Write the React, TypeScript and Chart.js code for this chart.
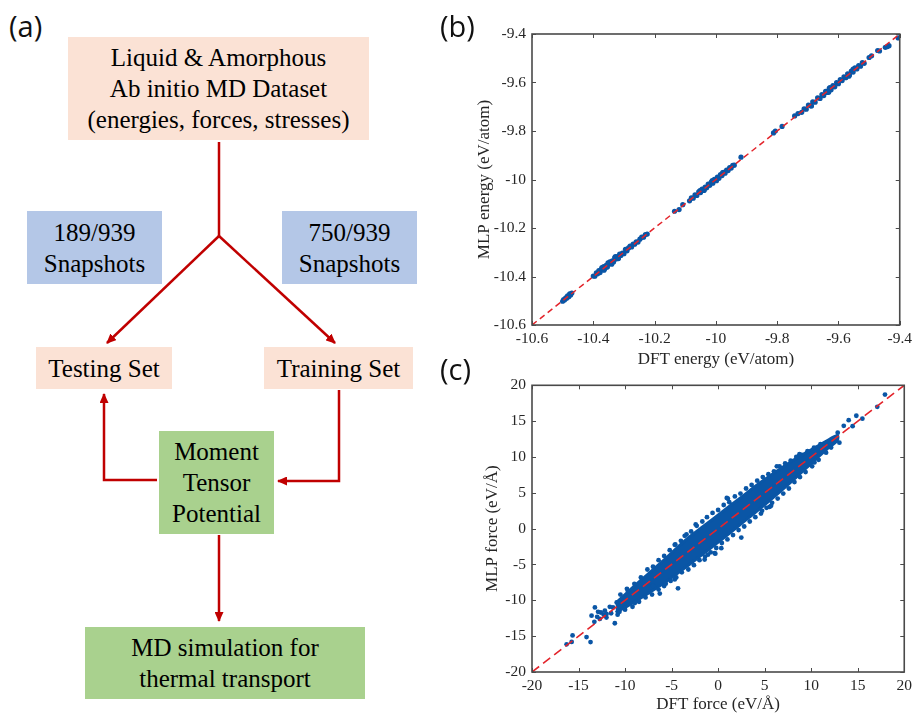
import React, { useEffect, useRef } from "react";
import { Chart, registerables } from "chart.js";

Chart.register(...registerables);

// ---------------- Panel (b): energies ----------------
const energyTicks = [-10.6, -10.4, -10.2, -10, -9.8, -9.6, -9.4];
const energyTickLabels = ["-10.6", "-10.4", "-10.2", "-10", "-9.8", "-9.6", "-9.4"];
const energyRange = [-10.6, -9.4];

const energyDFT = [
  -10.5, -10.497, -10.494, -10.49, -10.487, -10.484, -10.48, -10.477, -10.474, -10.47,
  -10.4, -10.395, -10.39, -10.386, -10.382, -10.378, -10.374, -10.37, -10.366, -10.362,
  -10.358, -10.354, -10.35, -10.346, -10.342, -10.338, -10.334, -10.33, -10.326, -10.322,
  -10.318, -10.314, -10.31, -10.305, -10.3, -10.295, -10.29, -10.285, -10.28, -10.275,
  -10.27, -10.265, -10.26, -10.254, -10.248, -10.242, -10.236, -10.23, -10.224,
  -10.352, -10.34, -10.328, -10.318, -10.365, -10.372,
  -10.135, -10.12, -10.108,
  -10.086, -10.08, -10.074, -10.068, -10.062, -10.056, -10.05, -10.045, -10.04, -10.035,
  -10.03, -10.025, -10.02, -10.015, -10.01, -10.005, -10.0, -9.995, -9.99, -9.985,
  -9.98, -9.975, -9.97, -9.965, -9.96, -9.955, -9.95, -9.945, -9.94,
  -10.052, -10.038, -10.012, -9.998, -9.978,
  -9.918,
  -9.812, -9.806, -9.784,
  -9.743, -9.732,
  -9.72, -9.712, -9.705, -9.698, -9.69, -9.684, -9.676, -9.668, -9.66, -9.654,
  -9.648, -9.642, -9.636, -9.63, -9.624, -9.618, -9.612, -9.606, -9.6, -9.594,
  -9.588, -9.582, -9.576, -9.57, -9.564, -9.558, -9.552, -9.546, -9.54, -9.534,
  -9.528, -9.522, -9.516,
  -9.688, -9.632, -9.628, -9.566, -9.552,
  -9.5, -9.492, -9.472, -9.466, -9.447, -9.44, -9.435, -9.405,
];

const energyMLP = [
  -10.502, -10.495, -10.497, -10.488, -10.49, -10.48, -10.483, -10.472, -10.476, -10.468,
  -10.398, -10.399, -10.385, -10.389, -10.376, -10.384, -10.371, -10.372, -10.359, -10.367,
  -10.354, -10.361, -10.348, -10.34, -10.346, -10.335, -10.34, -10.322, -10.328, -10.318,
  -10.323, -10.308, -10.313, -10.303, -10.306, -10.288, -10.294, -10.282, -10.275, -10.278,
  -10.266, -10.267, -10.257, -10.258, -10.246, -10.238, -10.238, -10.227, -10.225,
  -10.344, -10.349, -10.318, -10.326, -10.374, -10.363,
  -10.131, -10.124, -10.104,
  -10.088, -10.076, -10.077, -10.063, -10.066, -10.051, -10.054, -10.04, -10.045, -10.031,
  -10.034, -10.019, -10.024, -10.011, -10.015, -9.999, -10.004, -9.99, -9.995, -9.98,
  -9.984, -9.97, -9.974, -9.961, -9.963, -9.951, -9.953, -9.942, -9.941,
  -10.046, -10.044, -10.005, -10.005, -9.972,
  -9.908,
  -9.808, -9.8, -9.781,
  -9.738, -9.728,
  -9.723, -9.709, -9.71, -9.693, -9.696, -9.68, -9.681, -9.663, -9.666, -9.65,
  -9.654, -9.636, -9.641, -9.624, -9.63, -9.613, -9.618, -9.6, -9.605, -9.588,
  -9.592, -9.577, -9.58, -9.564, -9.569, -9.553, -9.557, -9.54, -9.544, -9.53,
  -9.533, -9.518, -9.521,
  -9.697, -9.64, -9.621, -9.574, -9.545,
  -9.497, -9.49, -9.468, -9.47, -9.455, -9.452, -9.448, -9.416,
];

// ---------------- Panel (c): forces ----------------
const forceTicks = [-20, -15, -10, -5, 0, 5, 10, 15, 20];
const forceTickLabels = ["-20", "-15", "-10", "-5", "0", "5", "10", "15", "20"];
const forceRange = [-20, 20];

// outline of the dense (saturated) core of the force cloud
const forceCoreDFT = [
  -11.0, -9.5, -7.5, -5.5, -3.5, -1.5, 0.5, 2.5, 4.5, 6.5, 8.5, 10.0, 11.5, 12.8,
  12.8, 11.5, 10.0, 8.5, 6.5, 4.5, 2.5, 0.5, -1.5, -3.5, -5.5, -7.5, -9.5, -11.0,
];
const forceCoreMLP = [
  -10.4, -8.6, -6.3, -4.0, -1.6, 0.4, 2.4, 4.4, 6.4, 8.2, 9.9, 11.0, 12.1, 13.0,
  12.3, 10.9, 9.1, 7.3, 5.0, 2.8, 0.7, -1.4, -3.4, -5.4, -7.3, -9.0, -10.6, -11.7,
];

// individual points: ragged edges of the cloud and outliers
const forceDFT = [
  -10.5, -9.8, -9.0, -8.3, -7.6, -7.0, -6.4, -5.8, -5.2, -4.6, -4.0, -3.4, -2.9, -2.3, -1.7, -1.2, -0.6, 0.0,
  0.6, 1.2, 1.8, 2.4, 3.0, 3.6, 4.2, 4.8, 5.4, 6.0, 6.6, 7.2, 7.8, 8.4, 9.0, 9.6, 10.3, 11.0,
  -10.8, -10.0, -9.2, -8.5, -7.8, -7.1, -6.4, -5.8, -5.1, -4.5, -3.9, -3.2, -2.6, -2.0, -1.4, -0.8, -0.2, 0.4,
  1.0, 1.6, 2.2, 2.8, 3.4, 4.0, 4.6, 5.2, 5.8, 6.4, 7.0, 7.6, 8.2, 8.8, 9.4, 10.1, 10.8, 11.6,
  17.93, 17.1, 15.5, 14.85, 14.45, 13.5, 14.03, 12.85, 13.03, 12.14, 10.35, 8.74, 6.31, 5.52, 2.49, 0.34,
  1.05, -0.38, 4.72, 5.69, 0.93, -2.41, -3.59, -4.66, -0.3, -1.45, -1.09, -4.31, -4.66, -6.27, -6.99, -5.63,
  -8.95, -11.1, -12.17, -13.24, -13.6, -14.14, -13.71, -15.64, -15.74, -16.28, -11.64, -11.99, -12.71, -9.7,
  -12.3, -11.5, -13.0, -12.9, -13.3, -12.6, -12.0, -11.3, -10.9, -10.6,
];
const forceMLP = [
  -9.2, -8.4, -7.7, -6.8, -5.7, -5.3, -4.4, -3.8, -3.0, -2.2, -1.7, -0.8, -0.4, 0.4, 1.0, 1.6, 2.2, 2.6,
  3.3, 3.7, 4.5, 4.9, 5.6, 6.1, 6.7, 7.2, 7.6, 8.0, 8.7, 9.1, 9.5, 10.0, 10.3, 10.8, 11.3, 11.8,
  -12.0, -11.3, -10.9, -10.2, -9.6, -9.2, -8.5, -8.0, -7.3, -6.8, -6.1, -5.7, -5.1, -4.4, -3.9, -3.3, -2.7, -2.0,
  -1.5, -0.9, -0.2, 0.3, 1.0, 1.6, 2.1, 2.9, 3.6, 4.2, 4.9, 5.6, 6.5, 7.2, 7.9, 8.7, 9.6, 10.6,
  18.7, 17.0, 15.35, 15.75, 14.3, 14.35, 15.13, 13.38, 12.0, 11.31, 9.24, 10.39, 8.69, 3.03, -1.24, -2.72,
  4.18, -3.41, 2.49, 3.18, 4.29, 0.59, -1.0, -2.25, -3.49, -4.32, -3.63, -8.32, -7.08, -9.06, -8.0, -7.68,
  -10.39, -13.2, -11.45, -10.99, -12.14, -15.13, -15.82, -14.9, -15.8, -16.14, -10.9, -11.9, -12.6, -8.7,
  -12.0, -11.8, -12.3, -11.6, -13.0, -11.7, -12.4, -11.0, -10.3, -11.6,
];

// ---------------- Styles ----------------
const BLUE = "#0a56a6";
const RED = "#e3242b";
const AXIS = "#4a4a4a";
const TEXT = "#262626";
const SERIF = '"Liberation Serif", "Times New Roman", serif';

const boxPlugin = {
  id: "matlabBox",
  afterDraw(chart: any) {
    const { ctx, chartArea: a, scales } = chart;
    const xs = scales.x;
    const ys = scales.y;
    ctx.save();
    ctx.strokeStyle = AXIS;
    ctx.lineWidth = 1;
    const tl = 4;
    ctx.beginPath();
    xs.ticks.forEach((t: any) => {
      const px = Math.round(xs.getPixelForValue(t.value)) + 0.5;
      ctx.moveTo(px, a.bottom);
      ctx.lineTo(px, a.bottom - tl);
      ctx.moveTo(px, a.top);
      ctx.lineTo(px, a.top + tl);
    });
    ys.ticks.forEach((t: any) => {
      const py = Math.round(ys.getPixelForValue(t.value)) + 0.5;
      ctx.moveTo(a.left, py);
      ctx.lineTo(a.left + tl, py);
      ctx.moveTo(a.right, py);
      ctx.lineTo(a.right - tl, py);
    });
    ctx.stroke();
    ctx.lineWidth = 1.6;
    ctx.strokeRect(a.left, a.top, a.right - a.left, a.bottom - a.top);
    ctx.restore();
  },
};

function labelFor(ticks: number[], labels: string[]) {
  return (v: any) => {
    const i = ticks.findIndex((t) => Math.abs(t - Number(v)) < 1e-9);
    return i >= 0 ? labels[i] : "";
  };
}

function makeConfig(p: any) {
  const tickFont = { family: SERIF, size: 15.5 };
  const titleFont = { family: SERIF, size: 17, lineHeight: 1 };
  return {
    type: "scatter",
    data: { datasets: p.datasets },
    options: {
      animation: false,
      responsive: false,
      events: [],
      layout: { padding: { top: p.padTop, right: p.padRight, left: 0, bottom: 0 } },
      plugins: { legend: { display: false }, tooltip: { enabled: false } },
      scales: {
        x: {
          type: "linear",
          position: "bottom",
          min: p.range[0],
          max: p.range[1],
          grid: { display: false, drawTicks: false },
          border: { display: false },
          ticks: {
            font: tickFont,
            color: TEXT,
            padding: 5,
            autoSkip: false,
            maxRotation: 0,
            callback: labelFor(p.ticks, p.labels),
          },
          afterBuildTicks: (s: any) => {
            s.ticks = p.ticks.map((v: number) => ({ value: v }));
          },
          afterFit: (s: any) => {
            s.height = p.xHeight;
          },
          title: {
            display: true,
            text: p.xTitle,
            font: titleFont,
            color: TEXT,
            padding: { top: 0, bottom: p.xTitlePad },
          },
        },
        y: {
          type: "linear",
          position: "left",
          min: p.range[0],
          max: p.range[1],
          grid: { display: false, drawTicks: false },
          border: { display: false },
          ticks: {
            font: tickFont,
            color: TEXT,
            padding: 6,
            autoSkip: false,
            callback: labelFor(p.ticks, p.labels),
          },
          afterBuildTicks: (s: any) => {
            s.ticks = p.ticks.map((v: number) => ({ value: v }));
          },
          afterFit: (s: any) => {
            s.width = p.yWidth;
          },
          title: {
            display: true,
            text: p.yTitle,
            font: titleFont,
            color: TEXT,
            padding: { top: p.yTitlePad, bottom: 0 },
          },
        },
      },
    },
    plugins: [boxPlugin],
  };
}

function energyConfig() {
  const points = energyDFT.map((x, i) => ({ x, y: energyMLP[i] }));
  return makeConfig({
    range: energyRange,
    ticks: energyTicks,
    labels: energyTickLabels,
    xTitle: "DFT energy (eV/atom)",
    yTitle: "MLP energy (eV/atom)",
    padTop: 34,
    padRight: 12,
    xHeight: 45,
    yWidth: 92,
    xTitlePad: 1.5,
    yTitlePad: 36.5,
    datasets: [
      {
        label: "parity",
        data: [
          { x: energyRange[0], y: energyRange[0] },
          { x: energyRange[1], y: energyRange[1] },
        ],
        showLine: true,
        borderColor: RED,
        borderWidth: 1.5,
        borderDash: [6, 4],
        pointRadius: 0,
        order: 0,
      },
      {
        label: "energies",
        data: points,
        backgroundColor: BLUE,
        borderWidth: 0,
        pointRadius: 2.6,
        order: 1,
      },
    ],
  });
}

function forceConfig() {
  const points = forceDFT.map((x, i) => ({ x, y: forceMLP[i] }));
  const core = forceCoreDFT.map((x, i) => ({ x, y: forceCoreMLP[i] }));
  return makeConfig({
    range: forceRange,
    ticks: forceTicks,
    labels: forceTickLabels,
    xTitle: "DFT force (eV/Å)",
    yTitle: "MLP force (eV/Å)",
    padTop: 12,
    padRight: 12,
    xHeight: 41,
    yWidth: 92,
    xTitlePad: 0,
    yTitlePad: 44.5,
    datasets: [
      {
        label: "parity",
        data: [
          { x: forceRange[0], y: forceRange[0] },
          { x: forceRange[1], y: forceRange[1] },
        ],
        showLine: true,
        borderColor: RED,
        borderWidth: 1.6,
        borderDash: [9, 5],
        pointRadius: 0,
        order: 0,
      },
      {
        label: "forces",
        data: points,
        backgroundColor: BLUE,
        borderWidth: 0,
        pointRadius: 2.4,
        order: 1,
      },
      {
        label: "forces (dense core)",
        data: core,
        showLine: true,
        fill: "shape",
        backgroundColor: BLUE,
        borderColor: BLUE,
        borderWidth: 3,
        pointRadius: 0,
        tension: 0.3,
        order: 2,
      },
    ],
  });
}

function ChartCanvas({ make, left, top, width, height }: any) {
  const ref = useRef<HTMLCanvasElement>(null);
  useEffect(() => {
    const chart = new Chart(ref.current as HTMLCanvasElement, make());
    return () => chart.destroy();
  }, []);
  return (
    <canvas
      ref={ref}
      width={width}
      height={height}
      style={{ position: "absolute", left, top, width, height }}
    />
  );
}

// ---------------- Panel (a): flow chart ----------------
const PINK = "#fbe2d5";
const LBLUE = "#b4c7e7";
const GREEN = "#a9d18e";
const DARKRED = "#c00000";

function Box({ x, y, w, h, bg, lines }: any) {
  return (
    <div
      style={{
        position: "absolute",
        left: x,
        top: y,
        width: w,
        height: h,
        background: bg,
        display: "flex",
        flexDirection: "column",
        justifyContent: "center",
        alignItems: "center",
        fontFamily: SERIF,
        fontSize: 25,
        lineHeight: "31px",
        color: "#000",
        whiteSpace: "nowrap",
      }}
    >
      {lines.map((l: string, i: number) => (
        <div key={i}>{l}</div>
      ))}
    </div>
  );
}

function PanelLabel({ text, x, y }: any) {
  return (
    <div
      style={{
        position: "absolute",
        left: x,
        top: y,
        fontFamily: '"Open Sans", "Noto Sans", sans-serif',
        fontSize: 29,
        lineHeight: "34px",
        color: "#111",
      }}
    >
      {text}
    </div>
  );
}

function FlowArrows() {
  const common = { stroke: DARKRED, strokeWidth: 2.5, fill: "none" };
  return (
    <svg
      width={440}
      height={713}
      style={{ position: "absolute", left: 0, top: 0 }}
    >
      <defs>
        <marker
          id="ah"
          markerUnits="userSpaceOnUse"
          markerWidth="10"
          markerHeight="9"
          refX="9"
          refY="4.5"
          orient="auto"
        >
          <path d="M0,0 L10,4.5 L0,9 z" fill={DARKRED} />
        </marker>
      </defs>
      <path d="M219,142 L219,236" {...common} />
      <path d="M219,236 L107,343" {...common} markerEnd="url(#ah)" />
      <path d="M219,236 L335,343" {...common} markerEnd="url(#ah)" />
      <path d="M157,480 L104,480 L104,394" {...common} markerEnd="url(#ah)" />
      <path d="M339,390 L339,481 L278,481" {...common} markerEnd="url(#ah)" />
      <path d="M219,535 L219,621" {...common} markerEnd="url(#ah)" />
    </svg>
  );
}

export default function App() {
  return (
    <div
      style={{
        position: "absolute",
        left: 0,
        top: 0,
        width: 917,
        height: 713,
        background: "#fff",
        overflow: "hidden",
      }}
    >
      <FlowArrows />
      <Box x={68} y={37} w={301} h={103} bg={PINK} lines={["Liquid & Amorphous", "Ab initio MD Dataset", "(energies, forces, stresses)"]} />
      <Box x={27} y={211} w={135} h={73} bg={LBLUE} lines={["189/939", "Snapshots"]} />
      <Box x={282} y={211} w={135} h={73} bg={LBLUE} lines={["750/939", "Snapshots"]} />
      <Box x={36} y={347} w={136} h={42} bg={PINK} lines={["Testing Set"]} />
      <Box x={264} y={347} w={149} h={42} bg={PINK} lines={["Training Set"]} />
      <Box x={159} y={431} w={115} h={103} bg={GREEN} lines={["Moment", "Tensor", "Potential"]} />
      <Box x={85} y={627} w={280} h={72} bg={GREEN} lines={["MD simulation for", "thermal transport"]} />

      <ChartCanvas make={energyConfig} left={440} top={0} width={477} height={370} />
      <ChartCanvas make={forceConfig} left={440} top={370} width={477} height={343} />

      <PanelLabel text="(a)" x={9} y={9} />
      <PanelLabel text="(b)" x={440} y={9} />
      <PanelLabel text="(c)" x={440} y={352} />
    </div>
  );
}
